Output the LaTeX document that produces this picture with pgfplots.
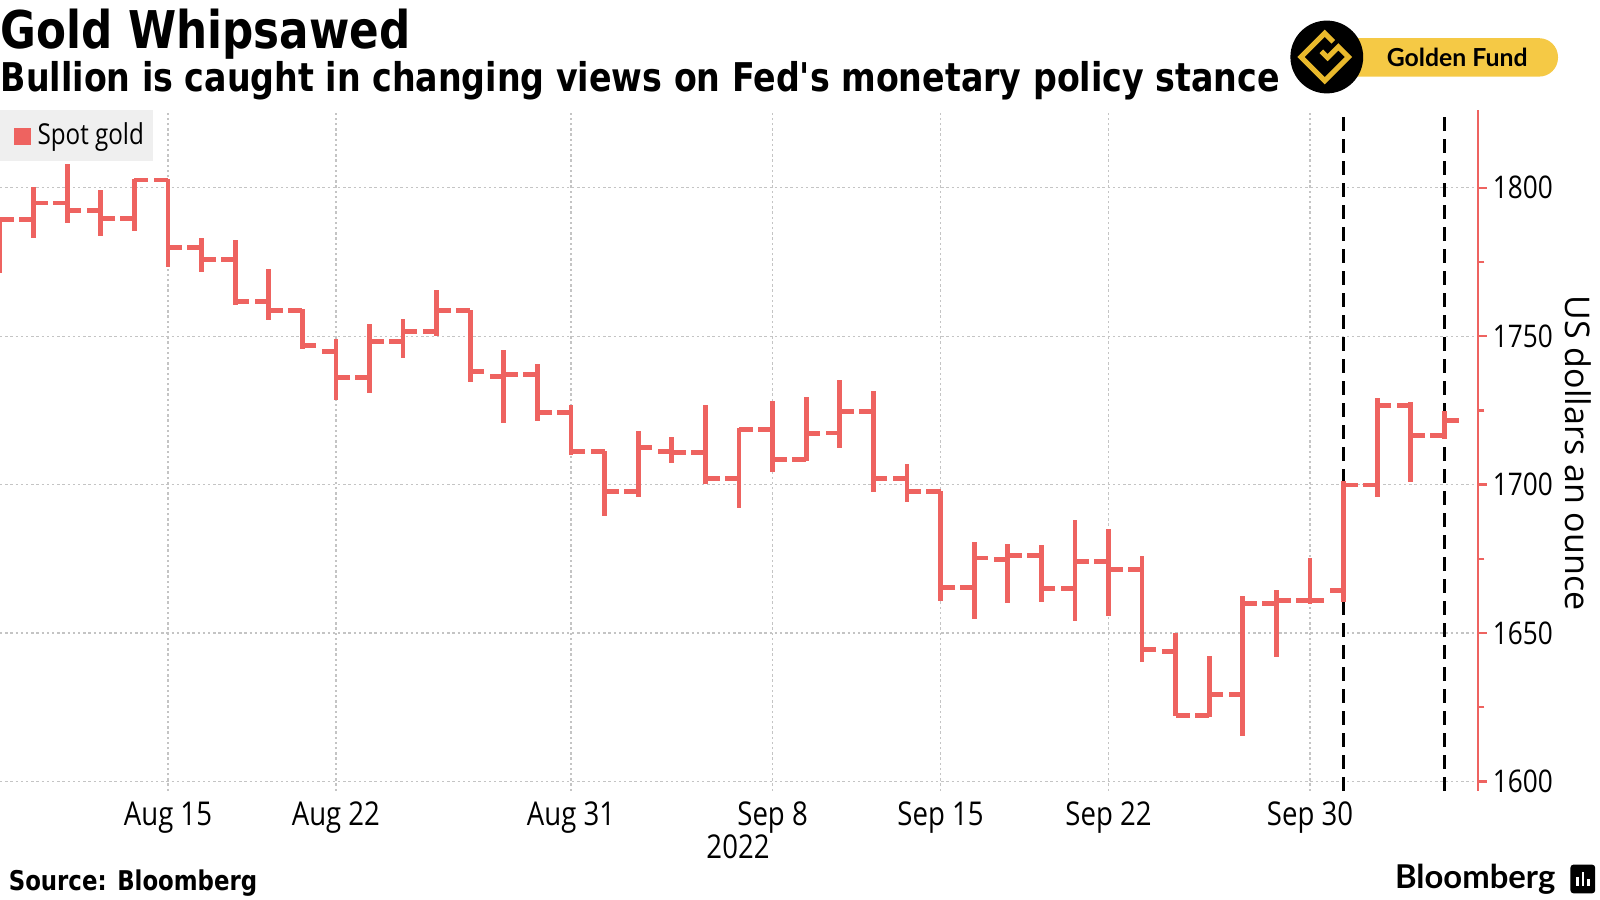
\documentclass[border=0pt]{standalone}
\usepackage{fontspec}
\usepackage{pgfplots}
\pgfplotsset{compat=1.18}
\usepackage{pgfplotstable}
\setmainfont[FakeStretch=0.84]{Open Sans}
\newfontfamily\titlefont[FakeStretch=0.84]{DejaVu Sans}
\newfontfamily\labfont{Open Sans}
\newfontfamily\logofont{Lato}
\definecolor{gred}{HTML}{EE6360}
\definecolor{ggrid}{HTML}{C4C4C4}
\definecolor{gyellow}{HTML}{F5C945}
\definecolor{ggold}{HTML}{E9B92C}
\definecolor{legbg}{HTML}{EFEFEF}

% x: trading day index (0 = Aug 8, 2022)
\pgfplotstableread{
x open high low close
0 1776.0 1789.9 1771.3 1789.3
1 1789.3 1800.3 1783.1 1794.9
2 1794.9 1807.9 1788.0 1792.4
3 1792.4 1799.4 1783.9 1789.7
4 1789.7 1803.0 1785.4 1802.6
5 1802.6 1802.8 1773.4 1779.8
6 1779.8 1783.1 1771.7 1775.8
7 1775.8 1782.4 1760.4 1761.8
8 1761.8 1772.5 1755.6 1758.7
9 1758.7 1759.0 1745.8 1746.9
10 1744.9 1748.9 1728.4 1736.2
11 1736.2 1754.2 1730.9 1748.3
12 1748.3 1755.8 1742.7 1751.7
13 1751.7 1765.7 1750.2 1758.7
14 1758.7 1758.9 1734.6 1738.0
15 1736.4 1745.5 1720.7 1737.1
16 1737.1 1740.5 1721.5 1724.3
17 1724.3 1726.8 1710.0 1711.2
18 1711.2 1711.4 1689.4 1697.8
19 1697.8 1718.1 1695.7 1712.5
20 1711.2 1715.9 1707.3 1710.9
21 1710.9 1726.8 1700.2 1702.1
22 1702.1 1719.2 1692.1 1718.5
23 1718.5 1728.3 1704.4 1708.4
24 1708.4 1729.4 1708.1 1717.1
25 1717.4 1735.4 1712.2 1724.7
26 1724.7 1731.7 1697.4 1702.2
27 1702.2 1707.0 1694.3 1697.8
28 1697.8 1698.0 1660.7 1665.4
29 1665.4 1680.6 1654.7 1675.3
30 1674.7 1680.0 1660.1 1676.1
31 1676.1 1679.7 1660.3 1665.1
32 1665.1 1688.1 1654.2 1674.2
33 1674.2 1685.1 1655.8 1671.3
34 1671.3 1675.8 1640.3 1644.4
35 1643.8 1650.0 1621.9 1622.1
36 1622.1 1642.4 1621.9 1629.2
37 1629.2 1662.4 1615.2 1660.0
38 1660.0 1664.6 1641.8 1660.9
39 1660.9 1675.3 1659.8 1660.9
40 1664.3 1701.3 1660.6 1699.9
41 1699.9 1729.1 1695.7 1726.6
42 1726.6 1728.0 1701.0 1716.5
43 1716.5 1724.9 1715.4 1721.6
}\ohlc

\begin{document}
\begin{tikzpicture}[x=1pt,y=1pt]
\useasboundingbox (0,-27.25) rectangle (400,197.75);
% legend box (behind axis)
\fill[legbg] (0,170.25) rectangle (38.25,157.5);
\fill[gred] (3.5,161.5) rectangle (7.75,165.75);
\node[anchor=west, inner sep=0pt, font=\fontsize{7.2}{8}\selectfont] at (9.2,163.6) {Spot gold};

\begin{axis}[
  at={(0,0)}, anchor=south west,
  scale only axis, width=369.5pt, height=170.25pt,
  xmin=0, xmax=44, ymin=1596.8, ymax=1826.2,
  axis x line*=bottom, axis y line*=right,
  x axis line style={draw=none},
  y axis line style={draw=gred, line width=0.5pt},
  xtick={5,10,17,23,28,33,39},
  xticklabels={Aug 15,Aug 22,Aug 31,Sep 8,Sep 15,Sep 22,Sep 30},
  xtick style={draw=none},
  ytick={1600,1650,1700,1750,1800},
  minor ytick={1625,1675,1725,1775},
  ytick align=outside,
  ytick style={draw=gred, line width=0.6pt},
  major tick length=2.2pt,
  minor tick length=1.6pt,
  xmajorgrids, ymajorgrids,
  major grid style={draw=ggrid, line width=0.3pt, dash pattern=on 0.6pt off 0.7pt},
  /pgf/number format/assume math mode=true,
  /pgf/number format/1000 sep={},
  xticklabel style={font=\fontsize{8.2}{9}\selectfont, anchor=base, yshift=-8.6pt},
  yticklabel style={font=\fontsize{7.8}{9}\selectfont, anchor=west, xshift=-2pt},
  clip=true,
]
% dashed event lines
\addplot[black, line width=0.75pt, dash pattern=on 3.4pt off 2.1pt] coordinates {(40,1596.8) (40,1826.2)};
\addplot[black, line width=0.75pt, dash pattern=on 3.4pt off 2.1pt] coordinates {(43,1596.8) (43,1826.2)};
% high-low ranges and open ticks
\addplot[draw=none, mark=none,
  error bars/.cd, y dir=both, y explicit, x dir=minus, x fixed=0.42,
  error mark=none, error bar style={draw=gred, line width=1.2pt, solid}]
  table[x=x, y=open,
        y error plus expr=\thisrow{high}-\thisrow{open},
        y error minus expr=\thisrow{open}-\thisrow{low}] {\ohlc};
% close ticks
\addplot[draw=none, mark=none,
  error bars/.cd, x dir=plus, x fixed=0.42,
  error mark=none, error bar style={draw=gred, line width=1.2pt, solid}]
  table[x=x, y=close] {\ohlc};
\end{axis}

% axis title
\node[rotate=-90, inner sep=0pt, font=\labfont\fontsize{8.5}{9}\selectfont] at (394.6,84.5) {US dollars an ounce};
% year
\node[inner sep=0pt, font=\fontsize{8.2}{9}\selectfont] at (184.5,-14.0) {2022};

% titles
\node[anchor=base west, inner sep=0pt, font=\titlefont\bfseries\fontsize{13}{15}\selectfont] at (0,185.5) {Gold Whipsawed};
\node[anchor=base west, inner sep=0pt, font=\titlefont\bfseries\fontsize{9.9}{11}\selectfont] at (0,174.75) {Bullion is caught in changing views on Fed's monetary policy stance};

% Golden Fund badge
\fill[gyellow, rounded corners=4.7pt] (333,178.6) rectangle (389.5,188.2);
\node[inner sep=0pt, font=\logofont\bfseries\fontsize{6.2}{7}\selectfont] at (364.3,183.4) {Golden Fund};
\fill[black] (331.7,183.5) circle (9.1);
\begin{scope}[shift={(331.2,183.5)}, rotate=45]
\draw[ggold, line width=1.3pt] (4.2,1.2) -- (4.2,4.2) -- (-4.2,4.2) -- (-4.2,-4.2) -- (4.2,-4.2) -- (4.2,-0.6) -- (0.4,-0.6) -- (0.4,1.6);
\end{scope}

% footer
\node[anchor=base west, inner sep=0pt, font=\titlefont\bfseries\fontsize{6.8}{8}\selectfont] at (2,-24.8) {Source: Bloomberg};
\node[anchor=base east, inner sep=0pt, font=\logofont\bfseries\fontsize{8.2}{9}\selectfont] at (389,-24.3) {Bloomberg};
\fill[black, rounded corners=0.8pt] (392.6,-25.6) rectangle (398.8,-18.4);
\fill[white] (394.1,-23.8) rectangle (394.8,-21.6);
\fill[white] (395.4,-23.8) rectangle (396.1,-20.2);
\fill[white] (396.7,-23.8) rectangle (397.4,-22.0);
\end{tikzpicture}
\end{document}
